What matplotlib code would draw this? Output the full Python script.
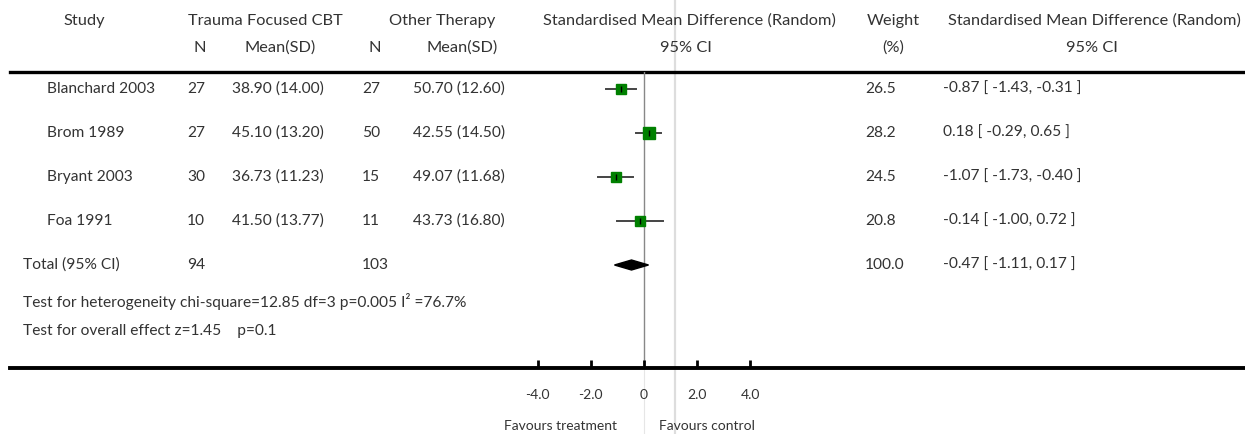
import matplotlib
matplotlib.use("Agg")
import matplotlib.pyplot as plt
from matplotlib.patches import Polygon
from matplotlib.lines import Line2D

plt.rcParams['font.family'] = ['Lato', 'DejaVu Sans']

# ---- data ----
studies = ["Blanchard 2003", "Brom 1989", "Bryant 2003", "Foa 1991"]
n_tf = [27, 27, 30, 10]
mean_tf = [38.90, 45.10, 36.73, 41.50]
sd_tf = [14.00, 13.20, 11.23, 13.77]
n_ot = [27, 50, 15, 11]
mean_ot = [50.70, 42.55, 49.07, 43.73]
sd_ot = [12.60, 14.50, 11.68, 16.80]
weights = [26.5, 28.2, 24.5, 20.8]
smd = [-0.87, 0.18, -1.07, -0.14]
ci_lo = [-1.43, -0.29, -1.73, -1.00]
ci_hi = [-0.31, 0.65, -0.40, 0.72]

total_n_tf = 94
total_n_ot = 103
total_weight = 100.0
total_smd = -0.47
total_lo = -1.11
total_hi = 0.17

heterogeneity = "Test for heterogeneity chi-square=12.85 df=3 p=0.005 I\u00b2 =76.7%"
overall = "Test for overall effect z=1.45    p=0.1"
xticks = [-4.0, -2.0, 0.0, 2.0, 4.0]
xtick_labels = ["-4.0", "-2.0", "0", "2.0", "4.0"]

W, H = 1245, 434
fig = plt.figure(figsize=(W / 100, H / 100), dpi=100)

# table layer in pixel units
tab = fig.add_axes([0, 0, 1, 1])
tab.set_xlim(0, W)
tab.set_ylim(H, 0)
tab.axis('off')

TXT = '#333333'
FS = 11.2
kw = dict(color=TXT, fontsize=FS, va='center')
hkw = dict(color=TXT, fontsize=11.8, va='center')

# header
H1, H2 = 21, 48
tab.text(84, H1, "Study", ha='center', **hkw)
tab.text(265, H1, "Trauma Focused CBT", ha='center', **hkw)
tab.text(442, H1, "Other Therapy", ha='center', **hkw)
tab.text(200, H2, "N", ha='center', **hkw)
tab.text(280, H2, "Mean(SD)", ha='center', **hkw)
tab.text(375, H2, "N", ha='center', **hkw)
tab.text(462, H2, "Mean(SD)", ha='center', **hkw)
tab.text(689, H1, "Standardised Mean Difference (Random)", ha='center', **hkw)
tab.text(686, H2, "95% CI", ha='center', **hkw)
tab.text(893, H1, "Weight", ha='center', **hkw)
tab.text(893, H2, "(%)", ha='center', **hkw)
tab.text(1094, H1, "Standardised Mean Difference (Random)", ha='center', **hkw)
tab.text(1092, H2, "95% CI", ha='center', **hkw)

row_y = [89, 133, 177, 221]
total_y = 265
for i, y in enumerate(row_y):
    tab.text(47, y, studies[i], ha='left', **kw)
    tab.text(187, y, f"{n_tf[i]}", ha='left', **kw)
    tab.text(232, y, f"{mean_tf[i]:.2f} ({sd_tf[i]:.2f})", ha='left', **kw)
    tab.text(362, y, f"{n_ot[i]}", ha='left', **kw)
    tab.text(413, y, f"{mean_ot[i]:.2f} ({sd_ot[i]:.2f})", ha='left', **kw)
    tab.text(865, y, f"{weights[i]:.1f}", ha='left', **kw)
    tab.text(943, y, f"{smd[i]:.2f} [ {ci_lo[i]:.2f}, {ci_hi[i]:.2f} ]", ha='left', **kw)

tab.text(23, total_y, "Total (95% CI)", ha='left', **kw)
tab.text(187, total_y, f"{total_n_tf}", ha='left', **kw)
tab.text(362, total_y, f"{total_n_ot}", ha='left', **kw)
tab.text(865, total_y, f"{total_weight:.1f}", ha='left', **kw)
tab.text(943, total_y, f"{total_smd:.2f} [ {total_lo:.2f}, {total_hi:.2f} ]", ha='left', **kw)
tab.text(23, 302, heterogeneity, ha='left', **kw)
tab.text(23, 331, overall, ha='left', **kw)

# light vertical guide through the whole figure
tab.add_line(Line2D([675, 675], [0, H], color='#dddddd', lw=1.6, zorder=0))
# faint continuation of the null line under the axis
tab.add_line(Line2D([644, 644], [368, H], color='#e6e6e6', lw=0.8, zorder=0))

# rules
tab.add_line(Line2D([10, W], [72, 72], color='black', lw=2.4))
tab.add_line(Line2D([10, W], [368, 368], color='black', lw=2.8))

# ---- forest panel ----
px_per_unit = 26.6
x0_px = 644
xl = (-4.5, 4.5)
left_px = x0_px + xl[0] * px_per_unit
width_px = (xl[1] - xl[0]) * px_per_unit
top_px, bot_px = 72, 368
ax = fig.add_axes([left_px / W, 1 - bot_px / H, width_px / W, (bot_px - top_px) / H])
ax.set_xlim(*xl)
ax.set_ylim(bot_px, top_px)
ax.patch.set_alpha(0)
for s in ax.spines.values():
    s.set_visible(False)
ax.set_yticks([])
ax.set_xticks(xticks)
ax.set_xticklabels(xtick_labels, color=TXT, fontsize=10)
ax.tick_params(axis='x', direction='in', length=6, width=2, pad=15, color='black')

ax.axvline(0, color='#888888', lw=1.0, zorder=1)

for i, y in enumerate(row_y):
    ax.plot([ci_lo[i], ci_hi[i]], [y, y], color='#444444', lw=1.4, zorder=2)
    ax.plot([smd[i]], [y], marker='s', ms=1.5 * weights[i] ** 0.5,
            color='#008000', mec='#008000', zorder=3, linestyle='none')
    ax.plot([smd[i]], [y], marker='|', ms=4, mew=1.0, color='black', zorder=4)

dh = 5.0
ax.add_patch(Polygon([(total_lo, total_y), (total_smd, total_y - dh),
                      (total_hi, total_y), (total_smd, total_y + dh)],
                     closed=True, color='black', zorder=3))

tab.text(560, 426, "Favours treatment", ha='center', color=TXT, fontsize=10, va='center')
tab.text(707, 426, "Favours control", ha='center', color=TXT, fontsize=10, va='center')

fig.savefig("out.png", dpi=100)
